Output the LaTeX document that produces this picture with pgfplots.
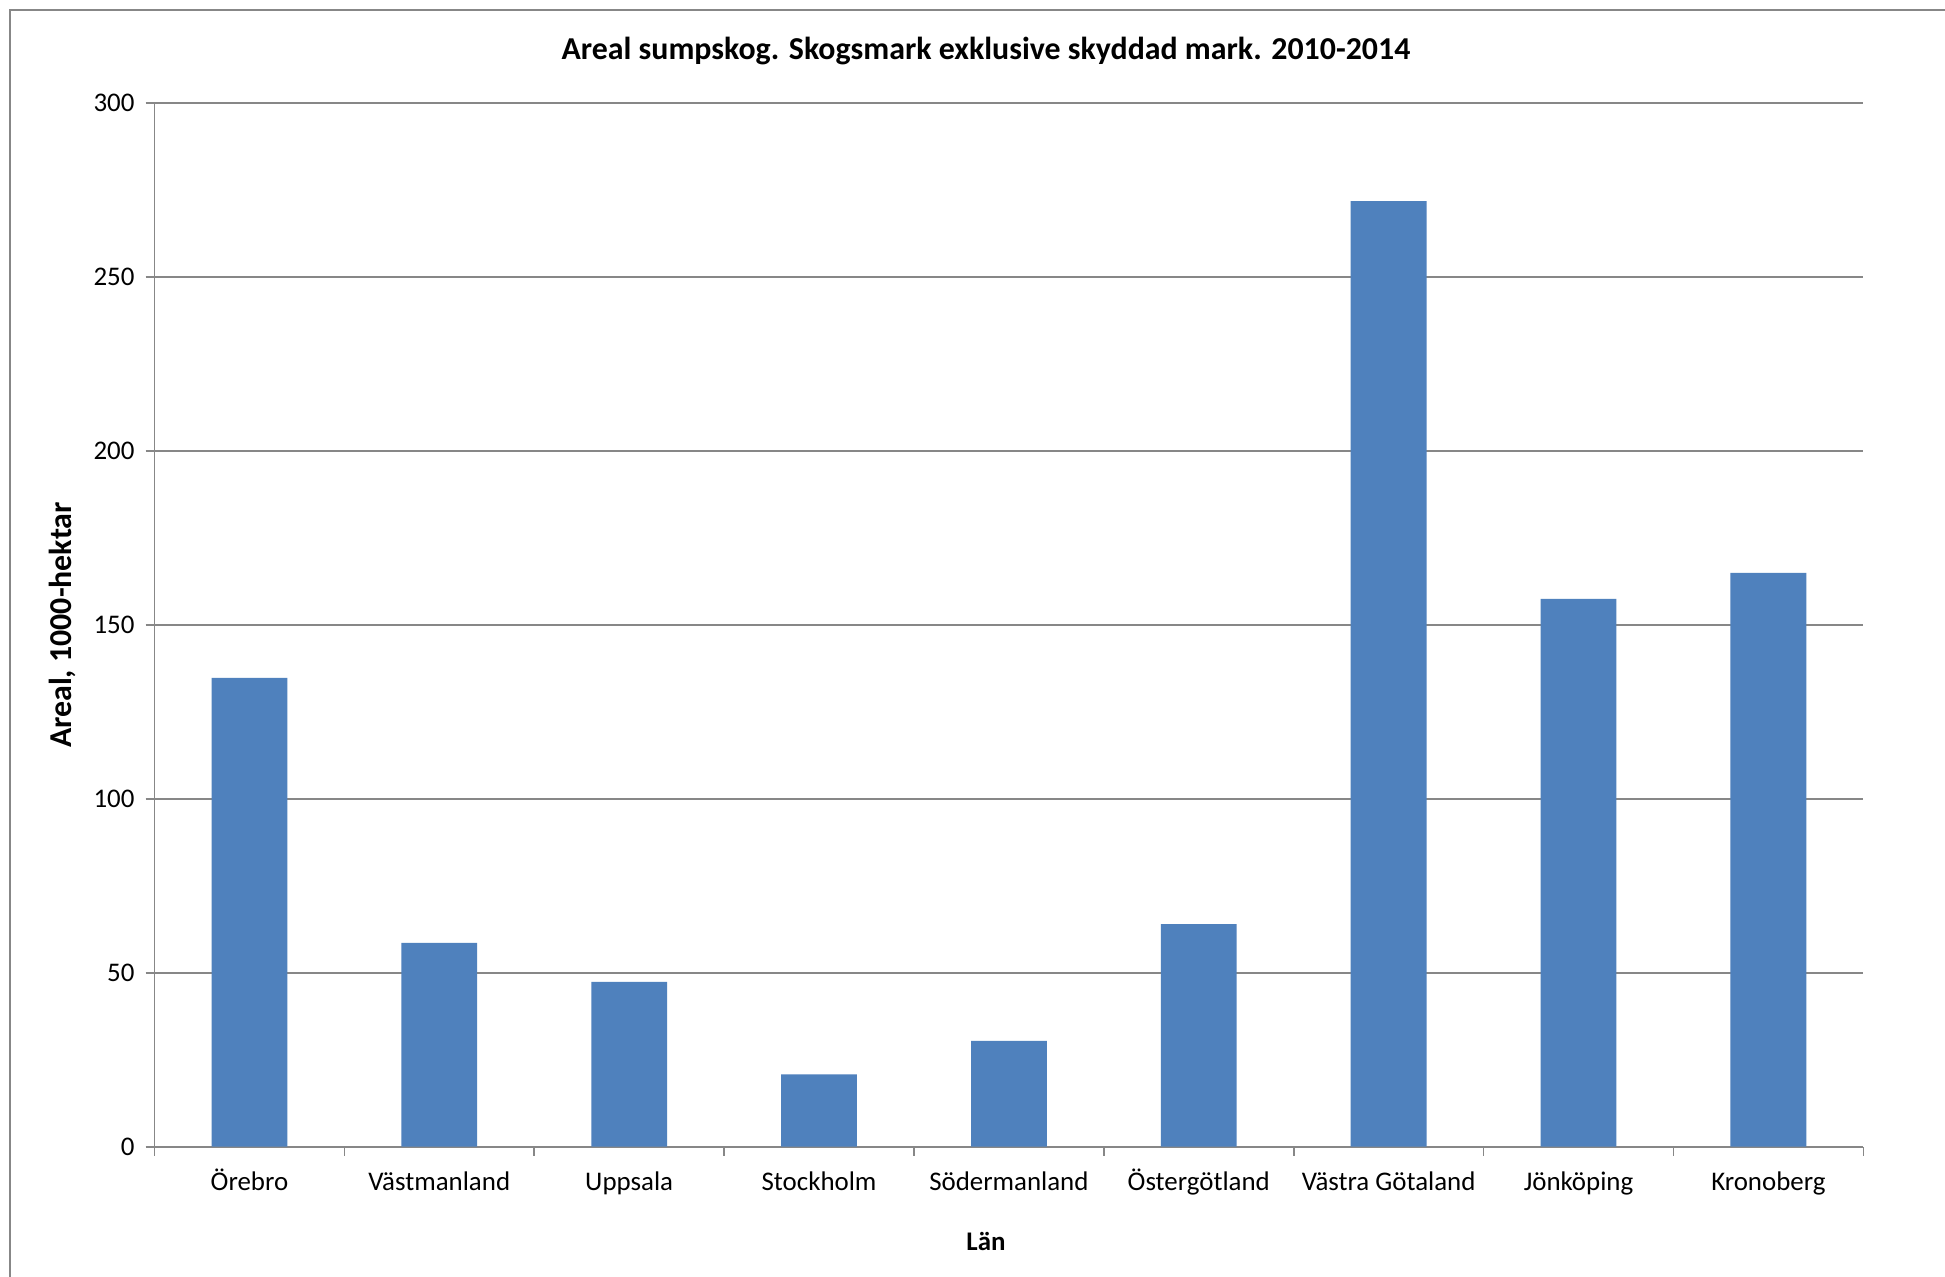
\documentclass[border=0pt]{standalone}
\usepackage{pgfplots}
\pgfplotsset{compat=1.18}
\usepackage{fontspec}
\setmainfont{Carlito}
\definecolor{barblue}{HTML}{4F81BD}
\definecolor{gridgray}{HTML}{878787}
\begin{document}
\begin{tikzpicture}
\useasboundingbox (0bp,0bp) rectangle (972.5bp,638.5bp);
\fill[white] (0bp,0bp) rectangle (972.5bp,638.5bp);
\draw[gridgray, line width=0.8bp] (5bp,0bp) -- (5bp,633.5bp) -- (972.5bp,633.5bp);
\begin{axis}[
  at={(77.25bp,65.15bp)}, anchor=south west,
  scale only axis, width=854.4bp, height=521.7bp,
  xmin=0.5, xmax=9.5, ymin=0, ymax=300,
  ytick={0,50,...,300},
  xtick={1,...,9},
  xticklabels={Örebro,Västmanland,Uppsala,Stockholm,Södermanland,Östergötland,Västra Götaland,Jönköping,Kronoberg},
  minor xtick={0.5,1.5,...,9.5},
  major x tick style={draw=none},
  minor x tick style={gridgray, line width=0.8bp},
  minor tick length=4.5bp,
  major tick length=4.5bp,
  tick align=outside,
  y tick style={gridgray, line width=0.8bp},
  ymajorgrids, grid style={gridgray, line width=0.8bp},
  axis line style={gridgray, line width=0.8bp},
  axis x line*=bottom, axis y line*=left,
  font=\fontsize{13.5}{15}\selectfont,
  /pgf/number format/assume math mode=true,
  ticklabel style={font=\fontsize{13.5}{15}\selectfont, text=black},
  yticklabel style={xshift=-2bp},
  xticklabel style={yshift=-4bp, text height=10bp, text depth=3bp},
  xlabel={Län},
  xlabel style={font=\fontsize{13.5}{15}\bfseries, at={(axis description cs:0.4866,-0.0913)}, anchor=center},
  ylabel={Areal, 1000-hektar},
  ylabel style={font=\fontsize{16}{18}\bfseries, at={(axis description cs:-0.0541,0.5)}, anchor=center, rotate=0},
  ybar, bar width=37.9bp,
  clip=false,
]
\addplot[fill=barblue, draw=none] coordinates {
 (1,134.8) (2,58.6) (3,47.4) (4,20.8) (5,30.4) (6,64.0) (7,271.9) (8,157.5) (9,165.0)};
\node[font=\fontsize{16}{19}\bfseries, anchor=base, inner sep=0pt] at (axis description cs:0.4866,1.0415) {Areal sumpskog. Skogsmark exklusive skyddad mark. 2010-2014};
\end{axis}
\end{tikzpicture}
\end{document}
